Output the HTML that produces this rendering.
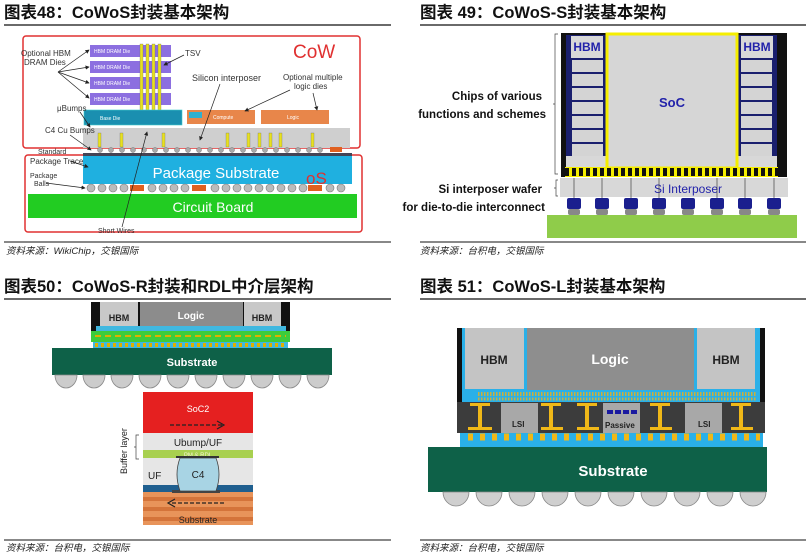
<!DOCTYPE html>
<html><head><meta charset="utf-8"><style>
html,body{margin:0;padding:0;background:#fff;}
svg{display:block;}
.t{font-family:"Liberation Sans","Noto Sans CJK SC",sans-serif;font-weight:bold;font-size:16.5px;fill:#111;}
.s{font-family:"Liberation Sans","Noto Sans CJK SC",sans-serif;font-style:italic;font-size:9.5px;fill:#222;}
.l{font-family:"Liberation Sans",sans-serif;font-size:8px;fill:#333;}
.b{font-family:"Liberation Sans",sans-serif;font-weight:bold;}
</style></head><body>
<svg width="810" height="560" viewBox="0 0 810 560" xmlns="http://www.w3.org/2000/svg">
<defs>
<marker id="ar" markerWidth="6" markerHeight="6" refX="5" refY="3" orient="auto"><path d="M0,0L6,3L0,6z" fill="#222"/></marker>
</defs>
<text class="t" x="4" y="18">图表48：CoWoS封装基本架构</text>
<text class="t" x="420" y="18">图表 49：CoWoS-S封装基本架构</text>
<text class="t" x="4" y="292">图表50：CoWoS-R封装和RDL中介层架构</text>
<text class="t" x="420" y="292">图表 51：CoWoS-L封装基本架构</text>
<line x1="4" y1="25" x2="391" y2="25" stroke="#111" stroke-width="1.2"/>
<line x1="420" y1="25" x2="806" y2="25" stroke="#111" stroke-width="1.2"/>
<line x1="4" y1="299" x2="391" y2="299" stroke="#111" stroke-width="1.2"/>
<line x1="420" y1="299" x2="806" y2="299" stroke="#111" stroke-width="1.2"/>
<line x1="4" y1="242" x2="391" y2="242" stroke="#111" stroke-width="1"/>
<line x1="420" y1="242" x2="806" y2="242" stroke="#111" stroke-width="1"/>
<line x1="4" y1="540" x2="391" y2="540" stroke="#111" stroke-width="1"/>
<line x1="420" y1="540" x2="806" y2="540" stroke="#111" stroke-width="1"/>
<text class="s" x="6" y="254">资料来源：WikiChip，交银国际</text>
<text class="s" x="420" y="254">资料来源：台积电，交银国际</text>
<text class="s" x="6" y="551">资料来源：台积电，交银国际</text>
<text class="s" x="420" y="551">资料来源：台积电，交银国际</text>

<!-- ===== Panel 1 ===== -->
<rect x="23" y="36" width="337" height="112" rx="3" fill="none" stroke="#e03030" stroke-width="1.5"/>
<rect x="25" y="155" width="337" height="77" rx="3" fill="none" stroke="#e03030" stroke-width="1.5"/>
<g fill="#8c6fe0">
<rect x="90" y="45" width="81" height="12"/><rect x="90" y="61" width="81" height="12"/>
<rect x="90" y="77" width="81" height="12"/><rect x="90" y="93" width="81" height="12"/>
</g>
<g font-family="Liberation Sans" font-size="5" fill="#fff">
<text x="94" y="53">HBM DRAM Die</text><text x="94" y="69">HBM DRAM Die</text>
<text x="94" y="85">HBM DRAM Die</text><text x="94" y="101">HBM DRAM Die</text>
</g>
<g fill="#e8e020" stroke="#666" stroke-width="0.3">
<rect x="140" y="44" width="3" height="68"/><rect x="146" y="44" width="3" height="68"/>
<rect x="152" y="44" width="3" height="68"/><rect x="158" y="44" width="3" height="68"/>
</g>
<rect x="84" y="110" width="98" height="15" fill="#1a8fb0" stroke="#4cc" stroke-width="0.6"/>
<text x="100" y="120" font-family="Liberation Sans" font-size="5" fill="#fff">Base Die</text>
<rect x="187" y="110" width="68" height="14" fill="#e8864a"/>
<rect x="261" y="110" width="68" height="14" fill="#e8864a"/>
<rect x="189" y="112" width="13" height="6" fill="#30b0d0"/>
<text x="213" y="119" font-family="Liberation Sans" font-size="5" fill="#fff">Compute</text>
<text x="287" y="119" font-family="Liberation Sans" font-size="5" fill="#fff">Logic</text>
<rect x="83" y="128" width="267" height="20" fill="#cfcfcf"/>
<g fill="#e8e020" stroke="#666" stroke-width="0.3">
<rect x="98" y="133" width="3" height="14"/><rect x="120" y="133" width="3" height="14"/><rect x="162" y="133" width="3" height="14"/>
<rect x="226" y="133" width="3" height="14"/><rect x="247" y="133" width="3" height="14"/><rect x="258" y="133" width="3" height="14"/>
<rect x="269" y="133" width="3" height="14"/><rect x="279" y="133" width="3" height="14"/><rect x="311" y="133" width="3" height="14"/>
</g>
<g fill="#aaa" stroke="#777" stroke-width="0.5">
<circle cx="100" cy="150" r="2.5"/><circle cx="111" cy="150" r="2.5"/><circle cx="122" cy="150" r="2.5"/><circle cx="133" cy="150" r="2.5"/><circle cx="144" cy="150" r="2.5"/><circle cx="155" cy="150" r="2.5"/><circle cx="166" cy="150" r="2.5"/><circle cx="177" cy="150" r="2.5"/><circle cx="188" cy="150" r="2.5"/><circle cx="199" cy="150" r="2.5"/><circle cx="210" cy="150" r="2.5"/><circle cx="221" cy="150" r="2.5"/><circle cx="232" cy="150" r="2.5"/><circle cx="243" cy="150" r="2.5"/><circle cx="254" cy="150" r="2.5"/><circle cx="265" cy="150" r="2.5"/><circle cx="276" cy="150" r="2.5"/><circle cx="287" cy="150" r="2.5"/><circle cx="298" cy="150" r="2.5"/><circle cx="309" cy="150" r="2.5"/><circle cx="320" cy="150" r="2.5"/>
</g>
<rect x="330" y="147" width="12" height="5" fill="#e06020"/>
<rect x="83" y="153" width="269" height="3" fill="#445"/>
<rect x="83" y="156" width="269" height="28" fill="#1fb0e0"/>
<text x="216" y="178" text-anchor="middle" font-family="Liberation Sans" font-size="15" fill="#fff">Package Substrate</text>
<text x="306" y="184" font-family="Liberation Sans" font-size="17" fill="#e03030">oS</text>
<g fill="#bbb" stroke="#777" stroke-width="0.6">
<circle cx="91" cy="188" r="4"/><circle cx="102" cy="188" r="4"/><circle cx="113" cy="188" r="4"/><circle cx="124" cy="188" r="4"/>
<circle cx="152" cy="188" r="4"/><circle cx="163" cy="188" r="4"/><circle cx="174" cy="188" r="4"/><circle cx="185" cy="188" r="4"/>
<circle cx="215" cy="188" r="4"/><circle cx="226" cy="188" r="4"/><circle cx="237" cy="188" r="4"/><circle cx="248" cy="188" r="4"/><circle cx="259" cy="188" r="4"/><circle cx="270" cy="188" r="4"/><circle cx="281" cy="188" r="4"/><circle cx="292" cy="188" r="4"/><circle cx="303" cy="188" r="4"/>
<circle cx="330" cy="188" r="4"/><circle cx="341" cy="188" r="4"/>
</g>
<g fill="#e06020"><rect x="130" y="185" width="14" height="6"/><rect x="192" y="185" width="14" height="6"/><rect x="308" y="185" width="14" height="6"/></g>
<rect x="28" y="194" width="329" height="24" fill="#22cc22"/>
<text x="213" y="212" text-anchor="middle" font-family="Liberation Sans" font-size="14" fill="#fff">Circuit Board</text>
<text x="293" y="58" font-family="Liberation Sans" font-size="19" fill="#e03030">CoW</text>
<g class="l">
<text x="21" y="56">Optional HBM</text><text x="24" y="65">DRAM Dies</text>
<text x="185" y="56">TSV</text>
<text x="192" y="81" font-size="9">Silicon interposer</text>
<text x="283" y="80">Optional multiple</text><text x="294" y="89">logic dies</text>
<text x="57" y="111">μBumps</text>
<text x="45" y="133">C4 Cu Bumps</text>
<text x="38" y="154" font-size="7">Standard</text>
<text x="30" y="164">Package Trace</text>
<text x="30" y="178" font-size="7">Package</text><text x="34" y="186" font-size="7">Balls</text>
<text x="98" y="233" font-size="7">Short Wires</text>
</g>
<g stroke="#222" stroke-width="0.7" fill="none" marker-end="url(#ar)">
<line x1="58" y1="72" x2="89" y2="50"/><line x1="58" y1="72" x2="89" y2="67"/><line x1="58" y1="72" x2="89" y2="83"/><line x1="58" y1="72" x2="89" y2="98"/>
<line x1="184" y1="55" x2="164" y2="65"/>
<line x1="220" y1="84" x2="200" y2="140"/>
<line x1="290" y1="90" x2="245" y2="111"/><line x1="313" y1="93" x2="317" y2="110"/>
<line x1="80" y1="112" x2="90" y2="127"/><line x1="70" y1="135" x2="91" y2="150"/>
<line x1="70" y1="161" x2="88" y2="167"/><line x1="46" y1="183" x2="85" y2="188"/>
<line x1="122" y1="227" x2="147" y2="132"/>
</g>

<!-- ===== Panel 2 ===== -->
<rect x="561" y="33" width="226" height="144" fill="#111"/>
<rect x="566" y="35" width="40" height="132" fill="#1a1f6e"/>
<rect x="737" y="35" width="40" height="132" fill="#1a1f6e"/>
<g fill="#d8d8d8">
<rect x="571" y="36" width="32" height="22"/><rect x="741" y="36" width="32" height="22"/>
</g>
<g fill="#d4d4d4">
<rect x="572" y="60" width="31" height="12"/><rect x="572" y="74" width="31" height="12"/><rect x="572" y="88" width="31" height="12"/><rect x="572" y="102" width="31" height="12"/><rect x="572" y="116" width="31" height="12"/><rect x="572" y="130" width="31" height="12"/><rect x="572" y="144" width="31" height="12"/>
<rect x="741" y="60" width="31" height="12"/><rect x="741" y="74" width="31" height="12"/><rect x="741" y="88" width="31" height="12"/><rect x="741" y="102" width="31" height="12"/><rect x="741" y="116" width="31" height="12"/><rect x="741" y="130" width="31" height="12"/><rect x="741" y="144" width="31" height="12"/>
</g>
<rect x="566" y="156" width="40" height="11" fill="#d8d8d8"/><rect x="737" y="156" width="40" height="11" fill="#d8d8d8"/>
<text x="587" y="51" text-anchor="middle" class="b" font-size="12" fill="#2222aa">HBM</text>
<text x="757" y="51" text-anchor="middle" class="b" font-size="12" fill="#2222aa">HBM</text>
<rect x="607" y="34" width="130" height="134" fill="#d6d6d6" stroke="#f5ee00" stroke-width="3"/>
<text x="672" y="107" text-anchor="middle" class="b" font-size="13" fill="#2222aa">SoC</text>
<rect x="565" y="167" width="213" height="10" fill="#f5ee00"/>
<line x1="565" y1="172" x2="778" y2="172" stroke="#111" stroke-width="8" stroke-dasharray="4,3"/>
<rect x="560" y="178" width="228" height="19" fill="#d8d8d8"/>
<text x="688" y="193" text-anchor="middle" font-family="Liberation Sans" font-size="12" fill="#2222aa">Si Interposer</text>
<g stroke="#444" stroke-width="0.7">
<line x1="574" y1="178" x2="574" y2="198"/><line x1="602" y1="178" x2="602" y2="198"/><line x1="631" y1="178" x2="631" y2="198"/><line x1="659" y1="178" x2="659" y2="198"/><line x1="717" y1="178" x2="717" y2="198"/><line x1="745" y1="178" x2="745" y2="198"/><line x1="774" y1="178" x2="774" y2="198"/>
</g>
<g fill="#1a1f8e">
<rect x="567" y="198" width="14" height="11" rx="2"/><rect x="595" y="198" width="14" height="11" rx="2"/><rect x="624" y="198" width="14" height="11" rx="2"/><rect x="652" y="198" width="14" height="11" rx="2"/><rect x="681" y="198" width="14" height="11" rx="2"/><rect x="710" y="198" width="14" height="11" rx="2"/><rect x="738" y="198" width="14" height="11" rx="2"/><rect x="767" y="198" width="14" height="11" rx="2"/>
</g>
<g fill="#888">
<rect x="568" y="209" width="12" height="6" rx="2"/><rect x="596" y="209" width="12" height="6" rx="2"/><rect x="625" y="209" width="12" height="6" rx="2"/><rect x="653" y="209" width="12" height="6" rx="2"/><rect x="682" y="209" width="12" height="6" rx="2"/><rect x="711" y="209" width="12" height="6" rx="2"/><rect x="739" y="209" width="12" height="6" rx="2"/><rect x="768" y="209" width="12" height="6" rx="2"/>
</g>
<rect x="547" y="215" width="250" height="23" fill="#8fcc4a"/>
<g class="b" font-size="11.5" fill="#111" text-anchor="end">
<text x="542" y="100">Chips of various</text><text x="546" y="118">functions and schemes</text>
<text x="542" y="193">Si interposer wafer</text><text x="545" y="211">for die-to-die interconnect</text>
</g>
<path d="M558,34 h-3 v70 h-2 M555,104 v70 h3" fill="none" stroke="#444" stroke-width="0.7"/>
<path d="M558,180 h-2 v8 h-2 M556,188 v8 h2" fill="none" stroke="#444" stroke-width="0.7"/>

<!-- ===== Panel 3 ===== -->
<rect x="91" y="302" width="199" height="30" fill="#111"/>
<rect x="100" y="302" width="38" height="27" fill="#c8c8c8"/>
<rect x="140" y="302" width="103" height="28" fill="#8c8c8c"/>
<rect x="244" y="302" width="37" height="27" fill="#c8c8c8"/>
<rect x="96" y="326" width="190" height="5" fill="#40b8e0"/>
<text x="119" y="321" text-anchor="middle" class="b" font-size="9" fill="#222">HBM</text>
<text x="191" y="319" text-anchor="middle" class="b" font-size="10" fill="#fff">Logic</text>
<text x="262" y="321" text-anchor="middle" class="b" font-size="9" fill="#222">HBM</text>
<rect x="91" y="331" width="199" height="11" fill="#3ccc3c"/>
<line x1="95" y1="336" x2="286" y2="336" stroke="#e0b000" stroke-width="2" stroke-dasharray="6,4"/>
<rect x="93" y="342" width="195" height="6" fill="#40b8e0"/>
<line x1="95" y1="345" x2="286" y2="345" stroke="#e0b000" stroke-width="4" stroke-dasharray="3,3"/>
<rect x="52" y="348" width="280" height="27" fill="#0e6148"/>
<text x="192" y="366" text-anchor="middle" class="b" font-size="11" fill="#fff">Substrate</text>
<g fill="#ccc" stroke="#888" stroke-width="0.8">
<path d="M55,375 a11,13 0 0 0 22,0z"/><path d="M83,375 a11,13 0 0 0 22,0z"/><path d="M111,375 a11,13 0 0 0 22,0z"/><path d="M139,375 a11,13 0 0 0 22,0z"/><path d="M167,375 a11,13 0 0 0 22,0z"/><path d="M195,375 a11,13 0 0 0 22,0z"/><path d="M223,375 a11,13 0 0 0 22,0z"/><path d="M251,375 a11,13 0 0 0 22,0z"/><path d="M279,375 a11,13 0 0 0 22,0z"/><path d="M307,375 a11,13 0 0 0 22,0z"/>
</g>
<rect x="143" y="392" width="110" height="41" fill="#e52020"/>
<text x="198" y="412" text-anchor="middle" font-family="Liberation Sans" font-size="9" fill="#fff">SoC2</text>
<line x1="170" y1="425" x2="222" y2="425" stroke="#222" stroke-width="1.2" stroke-dasharray="4,2"/>
<path d="M217,421 L224,425 L217,429" fill="none" stroke="#222" stroke-width="1.2"/>
<rect x="143" y="433" width="110" height="17" fill="#e6e6e6"/>
<text x="198" y="446" text-anchor="middle" font-family="Liberation Sans" font-size="10" fill="#222">Ubump/UF</text>
<rect x="143" y="450" width="110" height="8" fill="#a8d050"/>
<text x="198" y="457" text-anchor="middle" font-family="Liberation Sans" font-size="6" fill="#f4f4d0">PM &amp; RDL</text>
<rect x="143" y="458" width="110" height="27" fill="#e6e6e6"/>
<rect x="143" y="485" width="110" height="7" fill="#1f5f8f"/>
<rect x="143" y="492" width="110" height="33" fill="#e8945a"/>
<g fill="#d4743a"><rect x="143" y="497" width="110" height="4"/><rect x="143" y="507" width="110" height="4"/><rect x="143" y="517" width="110" height="4"/></g>
<rect x="172" y="490" width="48" height="3" fill="#444"/>
<path d="M180,458 h36 q6,16 0,33 h-36 q-6,-17 0,-33z" fill="#a8d4e4" stroke="#444" stroke-width="0.8"/>
<rect x="176" y="456" width="43" height="2" fill="#333"/>
<text x="198" y="478" text-anchor="middle" font-family="Liberation Sans" font-size="10" fill="#222">C4</text>
<text x="148" y="479" font-family="Liberation Sans" font-size="10" fill="#222">UF</text>
<line x1="172" y1="503" x2="225" y2="503" stroke="#222" stroke-width="1.2" stroke-dasharray="4,2"/>
<path d="M175,499 L168,503 L175,507" fill="none" stroke="#222" stroke-width="1.2"/>
<text x="198" y="523" text-anchor="middle" font-family="Liberation Sans" font-size="9" fill="#222">Substrate</text>
<text transform="translate(127,474) rotate(-90)" font-family="Liberation Sans" font-size="9" fill="#222">Buffer layer</text>
<path d="M139,435 h-3 v12 h-2 M136,447 v12 h3" fill="none" stroke="#444" stroke-width="0.7"/>

<!-- ===== Panel 4 ===== -->
<rect x="457" y="328" width="308" height="74" fill="#111"/>
<rect x="462" y="328" width="298" height="74" fill="#2ab0e8"/>
<rect x="465" y="328" width="59" height="61" fill="#c4c4c4"/>
<rect x="527" y="328" width="167" height="62" fill="#8e8e8e"/>
<rect x="697" y="328" width="58" height="61" fill="#c4c4c4"/>
<text x="494" y="364" text-anchor="middle" class="b" font-size="12" fill="#222">HBM</text>
<text x="610" y="364" text-anchor="middle" class="b" font-size="14" fill="#fff">Logic</text>
<text x="726" y="364" text-anchor="middle" class="b" font-size="12" fill="#222">HBM</text>
<line x1="478" y1="394" x2="757" y2="394" stroke="#c8b040" stroke-width="4" stroke-dasharray="1.5,1.5"/>
<line x1="478" y1="399" x2="757" y2="399" stroke="#c8b040" stroke-width="3" stroke-dasharray="1.5,1.5"/>
<rect x="457" y="402" width="308" height="31" fill="#3c3c3c"/>
<g fill="#a8a8a8">
<rect x="501" y="403" width="37" height="30"/><rect x="603" y="403" width="37" height="30"/><rect x="685" y="403" width="37" height="30"/>
</g>
<g font-family="Liberation Sans" font-size="8" fill="#222" font-weight="bold">
<text x="512" y="427">LSI</text><text x="605" y="428">Passive</text><text x="698" y="427">LSI</text>
</g>
<g fill="#1a1aa0"><rect x="607" y="410" width="6" height="4"/><rect x="615" y="410" width="6" height="4"/><rect x="623" y="410" width="6" height="4"/><rect x="631" y="410" width="6" height="4"/></g>
<g fill="#f0b818">
<rect x="470" y="403" width="20" height="3"/><rect x="478" y="403" width="4" height="27"/><rect x="468" y="427" width="24" height="3"/>
<rect x="541" y="403" width="20" height="3"/><rect x="549" y="403" width="4" height="27"/><rect x="541" y="427" width="22" height="3"/>
<rect x="577" y="403" width="20" height="3"/><rect x="585" y="403" width="4" height="27"/><rect x="577" y="427" width="22" height="3"/>
<rect x="650" y="403" width="20" height="3"/><rect x="658" y="403" width="4" height="27"/><rect x="650" y="427" width="22" height="3"/>
<rect x="731" y="403" width="20" height="3"/><rect x="739" y="403" width="4" height="27"/><rect x="731" y="427" width="22" height="3"/>
</g>
<rect x="460" y="433" width="303" height="14" fill="#2ab0e8"/>
<line x1="468" y1="437" x2="760" y2="437" stroke="#f0b818" stroke-width="7" stroke-dasharray="5,7"/>
<rect x="428" y="447" width="339" height="45" fill="#0e6148"/>
<text x="613" y="476" text-anchor="middle" class="b" font-size="15" fill="#fff">Substrate</text>
<g fill="#cfcfcf" stroke="#888" stroke-width="0.8">
<path d="M443,492 a13,14 0 0 0 26,0z"/><path d="M476,492 a13,14 0 0 0 26,0z"/><path d="M509,492 a13,14 0 0 0 26,0z"/><path d="M542,492 a13,14 0 0 0 26,0z"/><path d="M575,492 a13,14 0 0 0 26,0z"/><path d="M608,492 a13,14 0 0 0 26,0z"/><path d="M641,492 a13,14 0 0 0 26,0z"/><path d="M674,492 a13,14 0 0 0 26,0z"/><path d="M707,492 a13,14 0 0 0 26,0z"/><path d="M740,492 a13,14 0 0 0 26,0z"/>
</g>
</svg>
</body></html>
